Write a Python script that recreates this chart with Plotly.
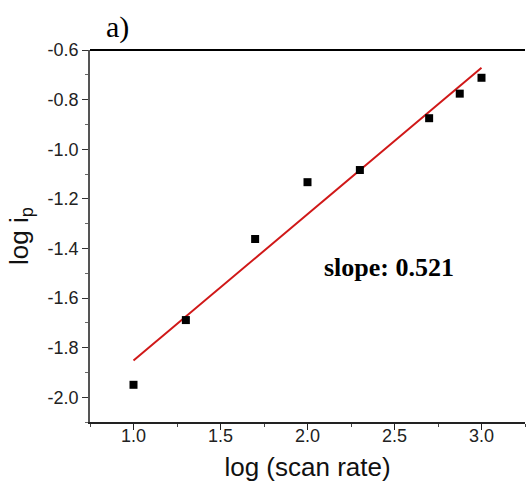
import numpy as np
import plotly.graph_objects as go

# data
log_scan_rate = [1.0, 1.301, 1.699, 2.0, 2.301, 2.699, 2.875, 3.0]
log_ip = [-1.950, -1.689, -1.362, -1.133, -1.084, -0.875, -0.776, -0.712]
slope_label = "slope: 0.521"
panel_label = "a)"

x_tick_vals = [1.0, 1.5, 2.0, 2.5, 3.0]
x_tick_text = ["1.0", "1.5", "2.0", "2.5", "3.0"]
y_tick_vals = [-2.0, -1.8, -1.6, -1.4, -1.2, -1.0, -0.8, -0.6]
y_tick_text = ["-2.0", "-1.8", "-1.6", "-1.4", "-1.2", "-1.0", "-0.8", "-0.6"]

# linear fit through the data
coef = np.polyfit(log_scan_rate, log_ip, 1)
fit_x = [min(log_scan_rate), max(log_scan_rate)]
fit_y = list(np.polyval(coef, fit_x))

fig = go.Figure()
fig.add_trace(go.Scatter(x=fit_x, y=fit_y, mode="lines",
                         line=dict(color="#d01818", width=2), showlegend=False))
fig.add_trace(go.Scatter(x=log_scan_rate, y=log_ip, mode="markers",
                         marker=dict(symbol="square", size=8, color="black"),
                         showlegend=False))

tick_font = dict(family="Liberation Sans, Arial", size=18, color="#222")
fig.update_layout(
    width=526, height=489,
    margin=dict(l=90, r=1, t=50, b=67),
    paper_bgcolor="white", plot_bgcolor="white",
    xaxis=dict(range=[0.75, 3.25], tickmode="array", tickvals=x_tick_vals, ticktext=x_tick_text,
               ticks="outside", ticklen=6, tickwidth=1.2, tickcolor="#222",
               showline=True, linecolor="#222", linewidth=1.5,
               showgrid=False, zeroline=False, tickfont=tick_font,
               ticklabelstandoff=-9,
               minor=dict(ticks="outside", ticklen=3, tickcolor="#444", dtick=0.25, tick0=0, showgrid=False),
               title=dict(text="log (scan rate)", font=dict(family="Liberation Sans, Arial", size=26, color="#111"),
                          standoff=12),
               automargin=False),
    yaxis=dict(range=[-2.1, -0.6], tickmode="array", tickvals=y_tick_vals, ticktext=y_tick_text,
               ticks="outside", ticklen=6, tickwidth=1.2, tickcolor="#333",
               showline=True, linecolor="#555", linewidth=1.5,
               showgrid=False, zeroline=False, tickfont=tick_font,
               minor=dict(ticks="outside", ticklen=3, tickcolor="#666", dtick=0.1, tick0=0, showgrid=False),
               title=dict(text="log i<sub>p</sub>", font=dict(family="Liberation Sans, Arial", size=26, color="#111"),
                          standoff=12),
               automargin=False),
    shapes=[dict(type="line", xref="paper", yref="paper", x0=0, x1=1, y0=1, y1=1,
                 line=dict(color="black", width=2))],
    annotations=[
        dict(text=panel_label, xref="paper", yref="paper", x=0.033, y=1.062,
             xanchor="left", yanchor="middle", showarrow=False,
             font=dict(family="Liberation Serif, Times New Roman", size=30, color="black")),
        dict(text="<b>" + slope_label + "</b>", xref="paper", yref="paper", x=0.687, y=0.414,
             xanchor="center", yanchor="middle", showarrow=False,
             font=dict(family="Liberation Serif, Times New Roman", size=26, color="black")),
    ],
)

fig.write_html("out.html", config={"displayModeBar": False},
               post_script="document.body.style.margin='0px';")
